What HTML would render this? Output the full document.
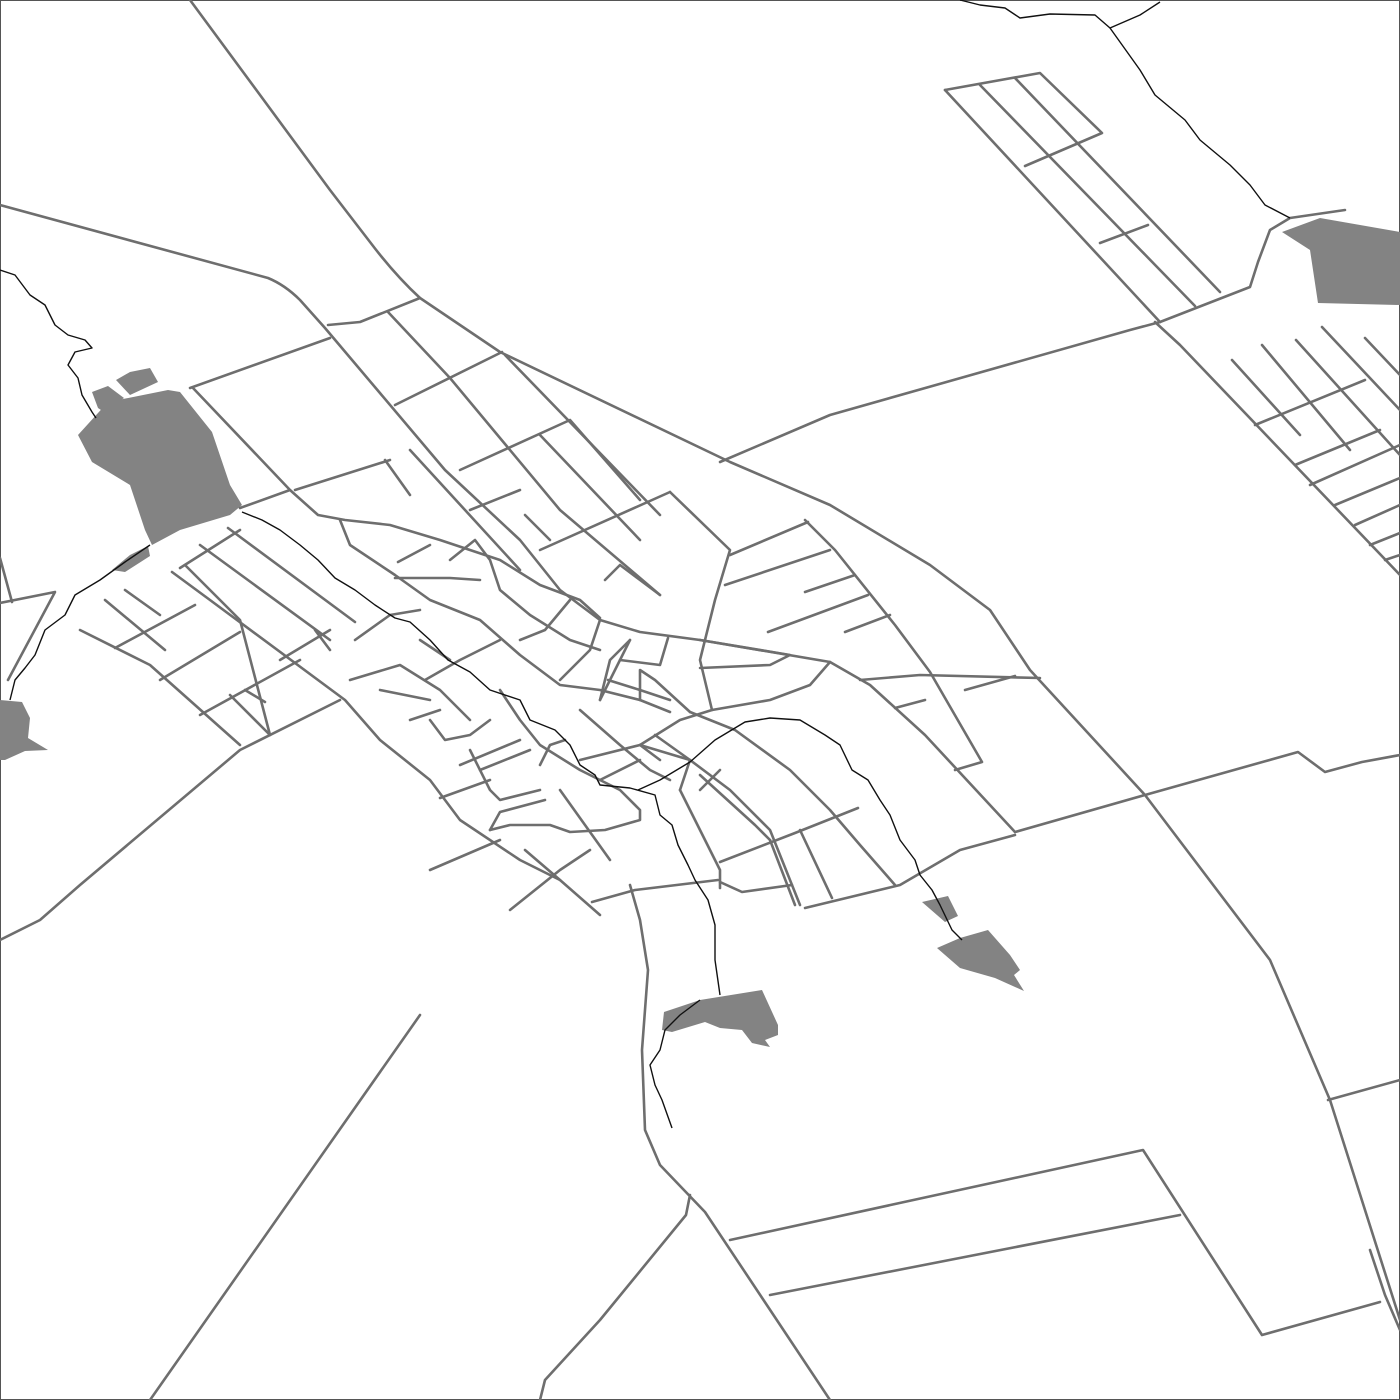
<!DOCTYPE html>
<html><head><meta charset="utf-8"><style>
html,body{margin:0;padding:0;background:#fff}
svg{display:block}
</style></head><body>
<svg width="1400" height="1400" viewBox="0 0 1400 1400" xmlns="http://www.w3.org/2000/svg">
<rect x="0.5" y="0.5" width="1399" height="1399" fill="#fff" stroke="#555" stroke-width="1"/>
<g fill="#838383" stroke="none">
<path d="M78,435 L108,402 L168,390 L180,392 L212,432 L230,485 L242,505 L230,515 L180,530 L152,545 L145,530 L130,485 L92,462 Z"/>
<path d="M92,392 L108,386 L124,398 L104,412 L98,408 Z"/>
<path d="M116,380 L130,372 L150,368 L158,382 L130,395 Z"/>
<path d="M112,570 L130,555 L148,546 L150,556 L125,572 Z"/>
<path d="M1282,232 L1320,218 L1400,232 L1400,305 L1318,303 L1310,250 Z"/>
<path d="M0,700 L22,702 L30,718 L28,738 L48,750 L25,751 L5,760 L0,760 Z"/>
<path d="M664,1012 L700,1000 L762,990 L778,1025 L778,1035 L765,1040 L770,1047 L752,1043 L742,1030 L720,1028 L705,1022 L672,1032 L662,1030 Z"/>
<path d="M937,948 L960,938 L988,930 L1010,955 L1020,970 L1014,975 L1024,991 L995,978 L960,968 Z"/>
<path d="M922,902 L948,896 L958,916 L945,922 Z"/>
</g>
<g fill="none" stroke="#6e6e6e" stroke-width="2.6" stroke-linecap="round" stroke-linejoin="round">
<path d="M190,0 L330,190 L370,242 Q395,275 420,298 L500,352 L730,462 L830,505 L930,565 L990,610 L1030,670 L1145,795 L1270,960 L1330,1100 L1400,1320"/>
<path d="M0,205 L268,278 Q285,285 300,300 L325,328 L445,470 L520,540 L560,590 L600,620 L640,632 L700,640 L830,662 L870,685 L925,735 L1015,832"/>
<path d="M328,325 L360,322 L420,298"/>
<path d="M720,462 L830,415 L1130,330 L1160,322 L1250,287 L1258,262 L1270,230 L1290,218 L1345,210"/>
<path d="M1155,322 L1180,345 L1400,575"/>
<path d="M0,940 L40,920 L80,885 L240,750 L340,700"/>
<path d="M0,603 L55,592 L8,680"/>
<path d="M0,558 L12,602"/>
<path d="M190,388 L330,338"/>
<path d="M193,388 L290,490 L240,508"/>
<path d="M290,490 L318,515 L345,520 L390,525 L440,540 L500,560 L540,585 L580,600 L600,618"/>
<path d="M592,902 L635,890 L718,880"/>
<path d="M720,882 L742,892 L792,885"/>
<path d="M630,885 L640,920 L648,970 L642,1050 L645,1130 L660,1165 L705,1212 L830,1400"/>
<path d="M690,1195 L686,1215 L600,1320 L545,1380 L540,1400"/>
<path d="M420,1015 L150,1400"/>
<path d="M730,1240 L1143,1150 L1262,1335 L1380,1302"/>
<path d="M770,1295 L1180,1215"/>
<path d="M1015,832 L1145,795 L1298,752 L1325,772 L1362,762 L1400,755"/>
<path d="M1328,1100 L1400,1080"/>
<path d="M1370,1250 L1385,1295 L1400,1330"/>
<path d="M945,90 L1160,322"/>
<path d="M980,85 L1195,306"/>
<path d="M1015,78 L1220,292"/>
<path d="M945,90 L1040,73 L1102,133 L1025,166"/>
<path d="M1100,243 L1148,225"/>
<path d="M1232,360 L1300,435"/>
<path d="M1262,345 L1350,450"/>
<path d="M1296,340 L1400,455"/>
<path d="M1322,327 L1400,410"/>
<path d="M1365,338 L1400,375"/>
<path d="M1255,425 L1365,380"/>
<path d="M1295,465 L1380,430"/>
<path d="M1310,485 L1400,445"/>
<path d="M1335,505 L1400,478"/>
<path d="M1355,525 L1400,505"/>
<path d="M1370,545 L1400,533"/>
<path d="M1385,560 L1400,555"/>
<path d="M388,312 L450,378"/>
<path d="M450,378 L560,510 L660,595"/>
<path d="M505,355 L660,515"/>
<path d="M395,405 L502,352"/>
<path d="M460,470 L570,420 L640,500"/>
<path d="M540,435 L640,540"/>
<path d="M410,450 L520,570"/>
<path d="M385,460 L410,495"/>
<path d="M295,490 L390,460"/>
<path d="M470,510 L520,490"/>
<path d="M525,515 L550,540"/>
<path d="M540,550 L670,492"/>
<path d="M670,492 L730,550 L715,600 L700,660 L712,710"/>
<path d="M730,555 L808,522"/>
<path d="M725,585 L830,550"/>
<path d="M805,520 L835,550 L895,625 L930,672 L982,762 L955,770"/>
<path d="M805,592 L855,575"/>
<path d="M768,632 L868,595"/>
<path d="M845,632 L890,615"/>
<path d="M860,680 L920,675 L1040,678"/>
<path d="M965,690 L1015,676"/>
<path d="M895,708 L925,700"/>
<path d="M340,520 L350,545 L395,575 L430,600 L480,620 L520,655 L560,685 L600,690 L640,700 L670,712"/>
<path d="M398,562 L430,545"/>
<path d="M450,560 L475,540 L490,560 L500,590 L530,615 L570,640 L600,650"/>
<path d="M395,578 L450,578 L480,580"/>
<path d="M605,580 L620,565 L640,580 L660,595"/>
<path d="M570,600 L545,630 L520,640"/>
<path d="M600,620 L590,650 L560,680"/>
<path d="M180,568 L240,530"/>
<path d="M172,572 L210,600 L345,700 L380,740 L430,780 L460,820 L520,860 L560,880 L600,915"/>
<path d="M200,545 L330,640"/>
<path d="M228,528 L355,622"/>
<path d="M105,600 L165,650"/>
<path d="M125,590 L160,615"/>
<path d="M80,630 L150,665 L240,745"/>
<path d="M115,648 L195,605"/>
<path d="M160,680 L240,632"/>
<path d="M200,715 L300,660"/>
<path d="M230,695 L270,735"/>
<path d="M245,690 L265,702"/>
<path d="M185,565 L240,620 L270,735"/>
<path d="M280,660 L330,630"/>
<path d="M315,630 L330,650"/>
<path d="M355,640 L390,615 L420,610"/>
<path d="M350,680 L400,665 L440,690 L470,720"/>
<path d="M380,690 L430,700"/>
<path d="M410,720 L440,710"/>
<path d="M430,720 L445,740 L470,735 L490,720"/>
<path d="M425,680 L460,660 L500,640"/>
<path d="M420,640 L450,660"/>
<path d="M460,765 L520,740"/>
<path d="M470,750 L490,790 L500,800 L540,790"/>
<path d="M440,798 L490,780"/>
<path d="M480,770 L530,750"/>
<path d="M490,830 L500,812 L545,800"/>
<path d="M490,830 L510,825 L550,825 L570,832 L605,830 L640,820 L640,810 L620,790 L580,770 L540,745 L520,720 L500,690"/>
<path d="M430,870 L500,840"/>
<path d="M510,910 L560,870 L590,850"/>
<path d="M560,790 L610,860"/>
<path d="M525,850 L560,880"/>
<path d="M540,765 L550,745 L565,740"/>
<path d="M600,700 L610,660 L630,640"/>
<path d="M620,660 L660,665 L668,638"/>
<path d="M630,640 L600,700"/>
<path d="M608,680 L640,690 L670,700"/>
<path d="M580,710 L620,745 L650,770 L670,780"/>
<path d="M580,760 L640,745 L690,760"/>
<path d="M600,780 L640,760"/>
<path d="M640,745 L680,720 L712,710 L770,700 L810,685 L830,662"/>
<path d="M640,700 L640,670 L655,680 L690,712"/>
<path d="M690,712 L735,730 L790,770 L830,810 L860,845 L895,885"/>
<path d="M700,640 L790,655 L770,665 L700,668"/>
<path d="M640,745 L660,760"/>
<path d="M655,735 L690,760 L730,790 L770,830 L800,905"/>
<path d="M680,790 L700,830 L720,870 L720,888"/>
<path d="M720,862 L795,833 L858,808"/>
<path d="M770,840 L795,905"/>
<path d="M800,830 L832,898"/>
<path d="M805,908 L900,885 L960,850 L1015,835"/>
<path d="M700,775 L755,825 L770,840"/>
<path d="M690,760 L680,790"/>
<path d="M700,790 L720,770"/>
</g>
<g fill="none" stroke="#111" stroke-width="1.4" stroke-linejoin="round">
<path d="M0,270 L15,275 L30,295 L45,305 L55,325 L68,335 L85,340 L92,348 L75,352 L68,365 L78,378 L82,395 L92,412 L96,418"/>
<path d="M242,512 L262,520 L280,530 L300,545 L318,560 L335,578 L355,590 L375,605 L395,618 L410,622 L430,640 L448,660 L470,672 L490,690 L520,700 L530,720 L555,730 L570,745 L580,765 L595,775 L600,785 L630,788 L655,795 L660,815 L672,825 L678,845 L688,865 L695,880 L708,900 L715,925 L715,960 L720,995"/>
<path d="M638,790 L660,780 L690,762 L715,740 L745,722 L770,718 L800,720 L825,735 L840,745 L852,770 L868,780 L880,800 L890,815 L900,840 L915,860 L920,875 L932,890 L940,905 L952,930 L962,940"/>
<path d="M150,545 L125,562 L100,580 L75,595 L65,615 L45,630 L35,655 L25,668 L15,680 L10,700"/>
<path d="M700,1000 L680,1015 L665,1030 L660,1050 L650,1065 L655,1085 L662,1100 L672,1128"/>
<path d="M960,0 L980,5 L1005,8 L1020,18 L1050,14 L1095,15 L1110,28 L1140,15 L1160,2"/>
<path d="M1110,28 L1140,70 L1155,95 L1185,120 L1200,140 L1230,165 L1250,185 L1265,205 L1290,218"/>
</g>
</svg>
</body></html>
